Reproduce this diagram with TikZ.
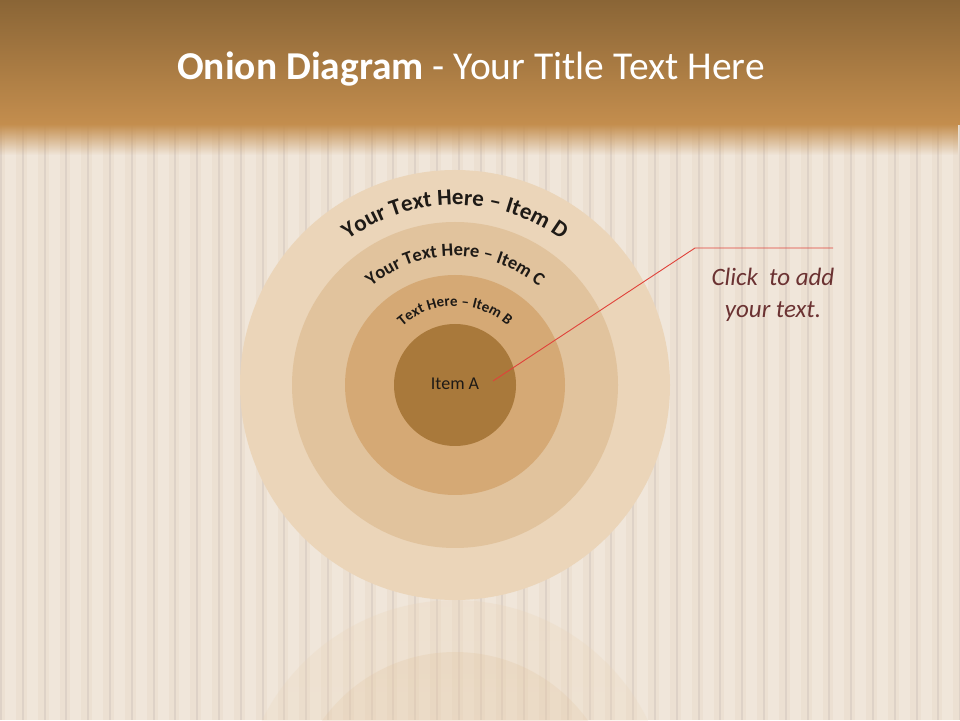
\documentclass[tikz,border=0pt]{standalone}
\usepackage{fontspec}
\setmainfont{Carlito}
\usetikzlibrary{decorations.text,fadings}
\definecolor{barTop}{HTML}{8A6536}
\definecolor{barLow}{HTML}{C48E4E}
\definecolor{woodBg}{HTML}{ECE0D2}
\definecolor{woodLine}{HTML}{DED2C7}
\definecolor{woodLight}{HTML}{F0E6DA}
\definecolor{ringD}{HTML}{EBD5B9}
\definecolor{ringC}{HTML}{E1C39D}
\definecolor{ringB}{HTML}{D5A975}
\definecolor{ringA}{HTML}{A9793B}
\definecolor{inkDark}{HTML}{1E1A16}
\definecolor{noteText}{HTML}{6B3232}
\definecolor{pinLine}{HTML}{E0423A}
\tikzset{
  ring/.style={circle, inner sep=0pt, minimum size=#1},
}
\newcommand{\ringlabel}[3]{%
  \path[decorate, decoration={text along path, text align=center,
    text color=inkDark, text={|\bfseries\fontsize{#2}{#2}\selectfont|#3}}]
    (o) ++(180:#1) arc[start angle=180, end angle=0, radius=#1];}
\begin{document}
\begin{tikzpicture}[x=1pt,y=1pt]
\useasboundingbox (0,0) rectangle (960,720);
\fill[woodBg] (0,0) rectangle (960,720);
\foreach \x in {0,21.8,...,960} {
  \fill[woodLight] (\x+5,0) rectangle ++(11,720);
  \fill[woodLine] (\x,0) rectangle ++(2,720);
}
\shade[top color=barTop, bottom color=barLow] (0,595) rectangle (960,720);
\fill[barLow, path fading=south] (0,565) rectangle (960,596);
\coordinate (o) at (455,335);
% reflection
\begin{scope}
\clip (0,0) rectangle (960,720);
\fill[ringD, opacity=0.3, path fading=south] (455,-95) circle[radius=215];
\fill[ringC, opacity=0.25, path fading=south] (455,-95) circle[radius=163];
\end{scope}
\node[ring=430pt, fill=ringD] (itemD) at (o) {};
\node[ring=326pt, fill=ringC] (itemC) at (o) {};
\node[ring=220pt, fill=ringB] (itemB) at (o) {};
\node[ring=122pt, fill=ringA, text=inkDark, font=\fontsize{18}{18}\selectfont] (itemA) at (o)
  {\raisebox{3pt}{Item A}};
\ringlabel{180}{23}{Your Text Here – Item D}
\ringlabel{129}{18.5}{Your Text Here – Item C}
\ringlabel{79}{15}{Text Here – Item B}
\node[anchor=base, text=white, font=\fontsize{39.5}{44}\selectfont] (title) at (471,640)
  {\textbf{Onion Diagram} - Your Title Text Here};
\node[align=center, text=noteText, font=\itshape\fontsize{25}{32}\selectfont] (note) at (773,425)
  {Click\ \ to add\\your text.};
\coordinate (pin) at (493,339);
\coordinate (knee) at (695,472);
\coordinate (tail) at (833,472);
\draw[pinLine, line width=0.9pt] (pin) -- (knee) -- (tail);
\end{tikzpicture}
\end{document}
